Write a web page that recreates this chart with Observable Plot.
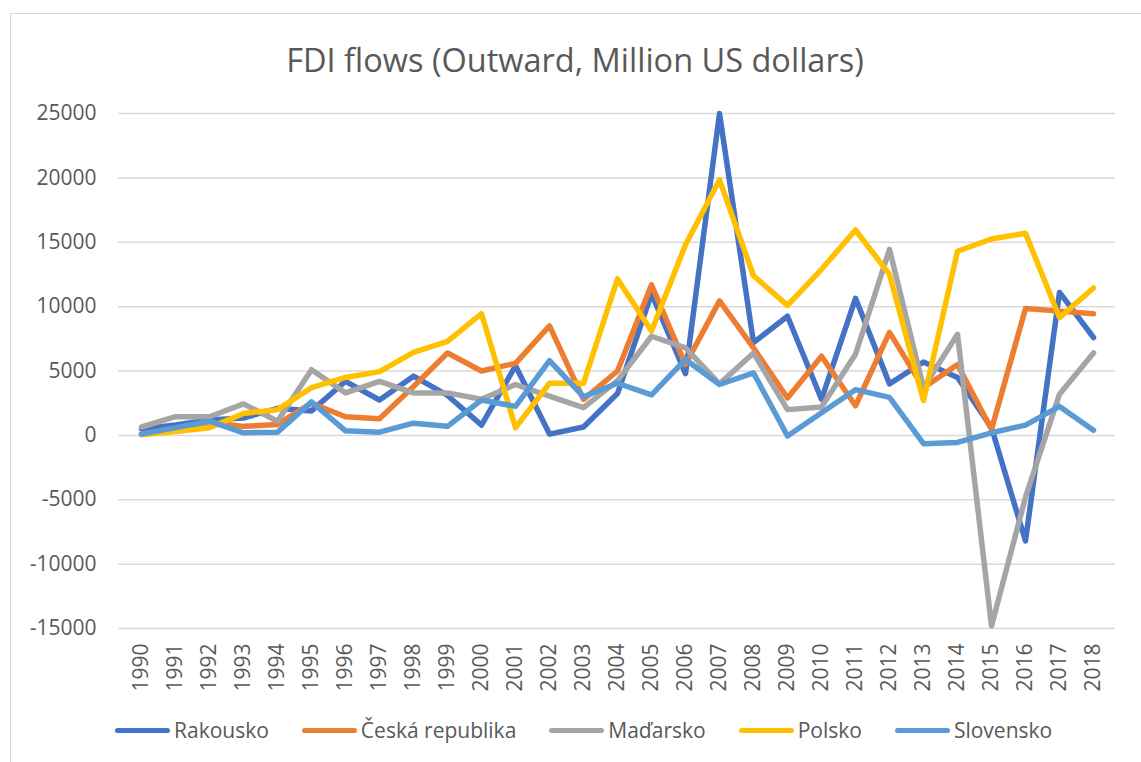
<!DOCTYPE html>
<html>
<head>
<meta charset="utf-8">
<script src="https://cdn.jsdelivr.net/npm/d3@7"></script>
<script src="https://cdn.jsdelivr.net/npm/@observablehq/plot@0.6"></script>
<style>
  html, body { margin: 0; padding: 0; background: #fff; overflow: hidden; }
  #wrap { position: relative; width: 1141px; height: 762px; overflow: hidden; font-family: "Open Sans", sans-serif; color: #595959; }
  #frame { position: absolute; left: 10px; top: 13px; width: 1160px; height: 780px; border: 1.5px solid #d9d9d9; box-sizing: border-box; }
  #title { position: absolute; left: 0; top: 44px; width: 1150px; text-align: center; font-size: 32.5px; line-height: 32px; white-space: nowrap; }
  #chart { position: absolute; left: 0; top: 0; }
  #legend { position: absolute; left: 115px; top: 720px; height: 20px; display: flex; align-items: center; font-size: 21px; line-height: 20px; white-space: nowrap; }
  .item { display: flex; align-items: center; margin-right: 33px; }
  .sw { width: 55px; height: 5px; border-radius: 3px; margin-right: 4px; }
</style>
</head>
<body>
<div id="wrap">
  <div id="frame"></div>
  <div id="chart"></div>
  <div id="title">FDI flows (Outward, Million US dollars)</div>
  <div id="legend"></div>
</div>
<script>
const years = d3.range(1990, 2019);
const countries = ["Rakousko", "Česká republika", "Maďarsko", "Polsko", "Slovensko"];
const colors = ["#4472C4", "#ED7D31", "#A5A5A5", "#FFC000", "#5B9BD5"];
const yTicks = [-15000, -10000, -5000, 0, 5000, 10000, 15000, 20000, 25000];

const rakousko = [500, 800, 1200, 1350, 2100, 1900, 4200, 2750, 4600, 3100, 800, 5400, 100, 650, 3250, 11000, 4800, 25000, 7200, 9250, 2800, 10650, 4000, 5700, 4500, 600, -8200, 11100, 7600];
const ceska = [100, 400, 1000, 700, 850, 2500, 1450, 1300, 3800, 6400, 5000, 5600, 8500, 2800, 5000, 11700, 5500, 10450, 6800, 2900, 6150, 2300, 8000, 3700, 5500, 450, 9850, 9650, 9450];
const madarsko = [650, 1450, 1450, 2450, 1100, 5100, 3300, 4200, 3300, 3300, 2800, 3950, 3050, 2150, 4250, 7700, 6800, 4000, 6400, 2000, 2200, 6300, 14450, 3700, 7850, -14800, -4800, 3200, 6400];
const polsko = [50, 300, 600, 1700, 2000, 3700, 4500, 4950, 6450, 7300, 9450, 600, 4050, 4050, 12150, 8100, 14800, 19850, 12400, 10100, 12900, 15950, 12500, 2700, 14300, 15250, 15700, 9150, 11450];
const slovensko = [100, 600, 1100, 200, 250, 2600, 350, 250, 950, 700, 2750, 2250, 5800, 3000, 4050, 3150, 5900, 3950, 4850, -50, 1750, 3550, 2950, -650, -550, 200, 800, 2250, 400];

const seriesValues = [rakousko, ceska, madarsko, polsko, slovensko];
const rows = [];
countries.forEach((c, i) => {
  seriesValues[i].forEach((v, j) => rows.push({country: c, year: years[j], value: v}));
});

const chart = Plot.plot({
  width: 1141,
  height: 762,
  marginLeft: 118,
  marginRight: 26,
  marginTop: 113,
  marginBottom: 134,
  style: {fontFamily: "Open Sans, sans-serif", fontSize: "21px", color: "#595959", background: "transparent", overflow: "visible"},
  x: {type: "point", domain: years, padding: 0.5},
  y: {domain: [-15000, 25000]},
  color: {domain: countries, range: colors},
  marks: [
    Plot.ruleY(yTicks, {stroke: "#d9d9d9", strokeWidth: 1.5}),
    Plot.axisY({ticks: yTicks, tickSize: 0, tickPadding: 22, tickFormat: d => String(d), label: null, fill: "#595959", fontSize: 21}),
    Plot.axisX({tickRotate: -90, tickSize: 0, tickPadding: 15, tickFormat: d => String(d), label: null, fill: "#595959", fontSize: 21}),
    Plot.line(rows, {x: "year", y: "value", z: "country", stroke: "country", strokeWidth: 5.5, strokeLinejoin: "round", strokeLinecap: "round"})
  ]
});
document.getElementById("chart").appendChild(chart);

const legend = document.getElementById("legend");
countries.forEach((c, i) => {
  const item = document.createElement("div");
  item.className = "item";
  const sw = document.createElement("div");
  sw.className = "sw";
  sw.style.background = colors[i];
  const t = document.createElement("span");
  t.textContent = c;
  item.appendChild(sw);
  item.appendChild(t);
  legend.appendChild(item);
});
</script>
</body>
</html>
